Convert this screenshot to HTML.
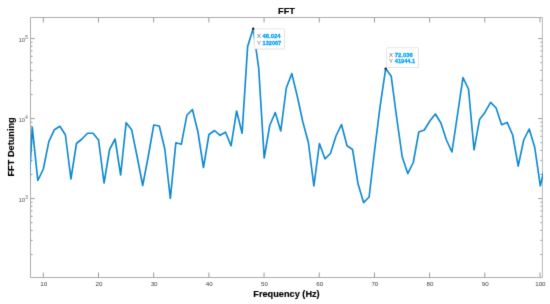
<!DOCTYPE html>
<html><head><meta charset="utf-8"><style>
html,body{margin:0;padding:0;background:#fff;}
body{width:550px;height:304px;overflow:hidden;}
svg{display:block;font-family:"Liberation Sans",sans-serif;}
</style></head><body>
<svg width="550" height="304" viewBox="0 0 550 304">
<defs><filter id="bl" x="0" y="0" width="550" height="304" filterUnits="userSpaceOnUse" color-interpolation-filters="sRGB"><feConvolveMatrix order="3" kernelMatrix="0.0100 0.0800 0.0100 0.0800 0.6400 0.0800 0.0100 0.0800 0.0100" edgeMode="duplicate"/></filter></defs><g filter="url(#bl)"><rect width="550" height="304" fill="#fff"/>
<defs><clipPath id="c"><rect x="30.4" y="17.5" width="512.6" height="260.0"/></clipPath></defs>
<path d="M43.30 277.5V272.5M43.30 17.5V22.5M98.49 277.5V272.5M98.49 17.5V22.5M153.68 277.5V272.5M153.68 17.5V22.5M208.87 277.5V272.5M208.87 17.5V22.5M264.06 277.5V272.5M264.06 17.5V22.5M319.25 277.5V272.5M319.25 17.5V22.5M374.44 277.5V272.5M374.44 17.5V22.5M429.63 277.5V272.5M429.63 17.5V22.5M484.82 277.5V272.5M484.82 17.5V22.5M540.01 277.5V272.5M540.01 17.5V22.5M30.5 198.55H34.7M542.4 198.55H538.1999999999999M30.5 118.55H34.7M542.4 118.55H538.1999999999999M30.5 38.55H34.7M542.4 38.55H538.1999999999999M30.5 254.47H32.5M542.4 254.47H540.4M30.5 240.38H32.5M542.4 240.38H540.4M30.5 230.39H32.5M542.4 230.39H540.4M30.5 222.63H32.5M542.4 222.63H540.4M30.5 216.30H32.5M542.4 216.30H540.4M30.5 210.94H32.5M542.4 210.94H540.4M30.5 206.30H32.5M542.4 206.30H540.4M30.5 202.21H32.5M542.4 202.21H540.4M30.5 174.47H32.5M542.4 174.47H540.4M30.5 160.38H32.5M542.4 160.38H540.4M30.5 150.39H32.5M542.4 150.39H540.4M30.5 142.63H32.5M542.4 142.63H540.4M30.5 136.30H32.5M542.4 136.30H540.4M30.5 130.94H32.5M542.4 130.94H540.4M30.5 126.30H32.5M542.4 126.30H540.4M30.5 122.21H32.5M542.4 122.21H540.4M30.5 94.47H32.5M542.4 94.47H540.4M30.5 80.38H32.5M542.4 80.38H540.4M30.5 70.39H32.5M542.4 70.39H540.4M30.5 62.63H32.5M542.4 62.63H540.4M30.5 56.30H32.5M542.4 56.30H540.4M30.5 50.94H32.5M542.4 50.94H540.4M30.5 46.30H32.5M542.4 46.30H540.4M30.5 42.21H32.5M542.4 42.21H540.4" stroke="#8e8e8e" stroke-width="0.9" fill="none"/>
<path d="M542.4 17.5V277.5" stroke="#b8b8b8" stroke-width="1"/>
<path d="M30.5 277.5V17.5H542.4M30.5 277.5H542.4" stroke="#acacac" stroke-width="1" fill="none"/>
<polyline clip-path="url(#c)" points="26.76,229.00 32.28,127.30 37.81,180.50 43.33,169.00 48.85,141.60 54.37,129.70 59.89,126.30 65.41,135.00 70.94,179.00 76.46,143.50 81.98,139.00 87.50,133.30 93.02,133.20 98.55,140.00 104.07,183.00 109.59,149.50 115.11,139.00 120.63,175.00 126.15,122.70 131.68,129.80 137.20,157.00 142.72,185.50 148.24,156.50 153.76,125.00 159.28,126.00 164.81,149.00 170.33,198.50 175.85,142.80 181.37,144.20 186.89,115.20 192.42,109.50 197.94,132.00 203.46,167.50 208.98,134.50 214.50,130.50 220.02,135.30 225.55,132.20 231.07,145.80 236.59,111.00 242.11,133.20 247.63,46.50 253.15,28.70 258.68,68.00 264.20,158.00 269.72,125.50 275.24,112.50 280.76,131.00 286.29,88.00 291.81,73.60 297.33,96.50 302.85,122.00 308.37,142.50 313.89,186.00 319.42,143.50 324.94,158.80 330.46,153.50 335.98,136.00 341.50,124.50 347.02,145.80 352.55,149.50 358.07,184.00 363.59,202.60 369.11,197.00 374.63,150.00 380.15,106.00 385.68,68.60 391.20,76.20 396.72,118.00 402.24,157.00 407.76,173.60 413.29,162.50 418.81,132.00 424.33,130.00 429.85,121.00 435.37,114.00 440.89,123.00 446.42,140.00 451.94,152.00 457.46,115.00 462.98,77.60 468.50,89.00 474.02,149.80 479.55,119.60 485.07,112.20 490.59,102.40 496.11,108.00 501.63,124.70 507.16,122.40 512.68,135.00 518.20,166.20 523.72,140.00 529.24,129.00 534.76,147.50 540.29,185.80 545.81,163.00" fill="none" stroke="#0f88cf" stroke-width="1.65" stroke-linejoin="round"/>
<g font-size="6.2" fill="#3c3c3c" text-anchor="middle"><text x="43.70" y="286.2">10</text><text x="98.89" y="286.2">20</text><text x="154.08" y="286.2">30</text><text x="209.27" y="286.2">40</text><text x="264.46" y="286.2">50</text><text x="319.65" y="286.2">60</text><text x="374.84" y="286.2">70</text><text x="430.03" y="286.2">80</text><text x="485.22" y="286.2">90</text><text x="540.41" y="286.2">100</text></g>
<g font-size="6" fill="#555"><text x="25.2" y="201.75" text-anchor="end">10</text><text x="25.2" y="199.25" font-size="4.6">3</text><text x="25.2" y="121.75" text-anchor="end">10</text><text x="25.2" y="119.25" font-size="4.6">4</text><text x="25.2" y="41.75" text-anchor="end">10</text><text x="25.2" y="39.25" font-size="4.6">5</text></g>
<text x="286.5" y="13.8" text-anchor="middle" font-weight="bold" font-size="9.2" fill="#000" stroke="#000" stroke-width="0.15">FFT</text>
<text x="286.5" y="297" text-anchor="middle" font-weight="bold" font-size="9.2" fill="#000" stroke="#000" stroke-width="0.15">Frequency (Hz)</text>
<text transform="translate(14.4,146.9) rotate(-90)" text-anchor="middle" font-weight="bold" font-size="9.2" fill="#000" stroke="#000" stroke-width="0.15">FFT Detuning</text>
<g>
<rect x="254.89999999999998" y="29.599999999999998" width="30.3" height="20" fill="#000" opacity="0.05"/>
<rect x="254.2" y="28.9" width="30.3" height="20" rx="0.8" fill="#fff" stroke="#dcdcdc" stroke-width="0.7"/>
<g font-size="6">
<text x="256.9" y="37.7" fill="#666">X</text><text x="262.59999999999997" y="37.7" fill="#00a0f8" stroke="#00a0f8" stroke-width="0.28" font-weight="bold" textLength="17.8" lengthAdjust="spacingAndGlyphs">48.024</text>
<text x="256.9" y="44.599999999999994" fill="#666">Y</text><text x="262.59999999999997" y="44.599999999999994" fill="#00a0f8" stroke="#00a0f8" stroke-width="0.28" font-weight="bold" textLength="18.6" lengthAdjust="spacingAndGlyphs">132067</text>
</g></g>
<g>
<rect x="387.3" y="48.400000000000006" width="31.9" height="19.8" fill="#000" opacity="0.05"/>
<rect x="386.6" y="47.7" width="31.9" height="19.8" rx="0.8" fill="#fff" stroke="#dcdcdc" stroke-width="0.7"/>
<g font-size="6">
<text x="389.1" y="56.5" fill="#666">X</text><text x="394.8" y="56.5" fill="#00a0f8" stroke="#00a0f8" stroke-width="0.28" font-weight="bold" textLength="17.9" lengthAdjust="spacingAndGlyphs">72.036</text>
<text x="389.1" y="63.400000000000006" fill="#666">Y</text><text x="394.8" y="63.400000000000006" fill="#00a0f8" stroke="#00a0f8" stroke-width="0.28" font-weight="bold" textLength="20.4" lengthAdjust="spacingAndGlyphs">41944.1</text>
</g></g>
<circle cx="253.15" cy="28.7" r="1.2" fill="#222"/>
<circle cx="385.68" cy="68.6" r="1.2" fill="#222"/>
</g></svg>
</body></html>
